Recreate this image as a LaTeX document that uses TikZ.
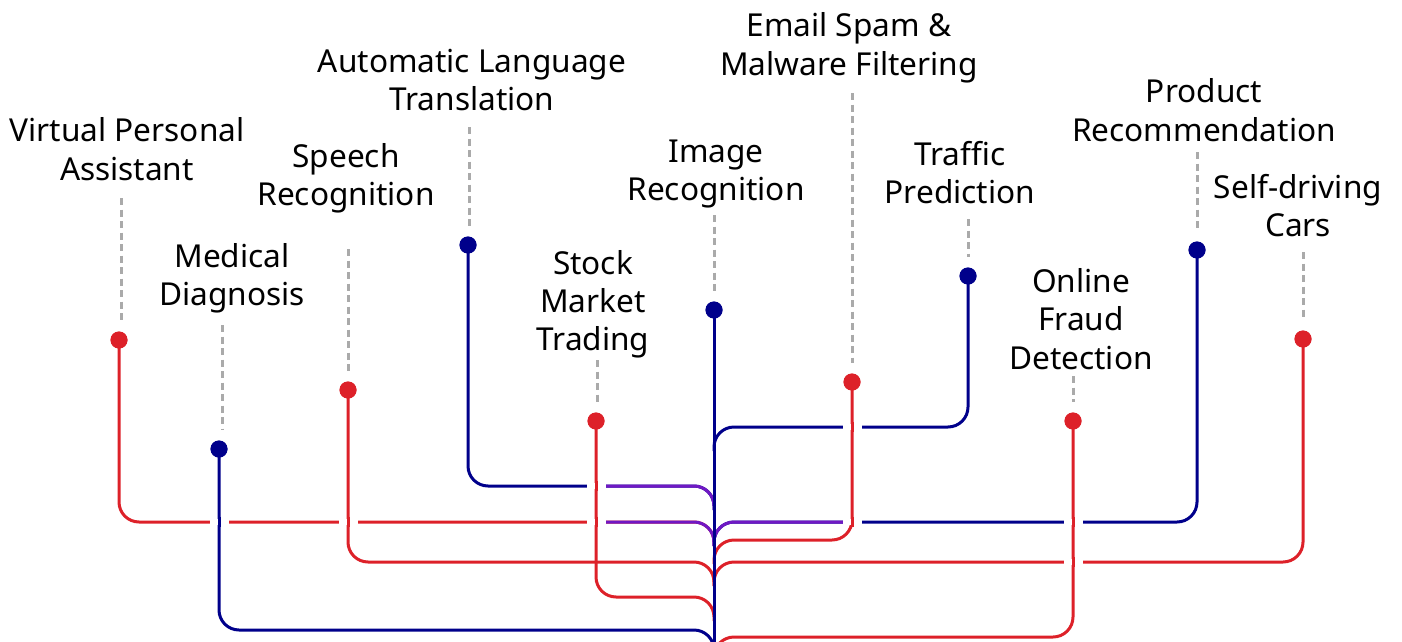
\documentclass[tikz,border=0pt]{standalone}
\usepackage{fontspec}
\setmainfont{Noto Sans}
\definecolor{cred}{RGB}{221,33,41}
\definecolor{cblue}{RGB}{0,0,139}
\definecolor{cpurple}{RGB}{112,24,196}
\definecolor{cgray}{RGB}{170,170,170}
\newcommand\xgap[3]{%
  \fill[white] (#1-9.5,#2-3.2) rectangle (#1+9.5,#2+3.2);
  \draw[#3, rounded corners=0pt] (#1,#2-5) -- (#1,#2+5);}
\begin{document}
\begin{tikzpicture}[x=1pt,y=-1pt,
  lbl/.style={align=center, font=\fontsize{31.6}{38.3}\selectfont, inner sep=0pt, anchor=base},
  conn/.style={line width=3pt, rounded corners=20pt},
  redl/.style={conn, draw=cred},
  bluel/.style={conn, draw=cblue},
  purl/.style={conn, draw=cpurple},
  rdot/.style={circle, fill=cred, inner sep=0pt, minimum size=17pt},
  bdot/.style={circle, fill=cblue, inner sep=0pt, minimum size=17pt},
  leader/.style={draw=cgray, line width=3pt, dash pattern=on 7pt off 4.5pt, shorten >=19pt}]
\useasboundingbox (0,0) rectangle (1402,642);
\begin{scope}
\clip (0,0) rectangle (1402,642);
% dots (positions)
\node[rdot] (dVPA) at (119,340) {};
\node[bdot] (dMed) at (219,449) {};
\node[rdot] (dSpe) at (348,390) {};
\node[bdot] (dALT) at (468,245) {};
\node[rdot] (dSto) at (596,421) {};
\node[bdot] (dImg) at (714,310) {};
\node[rdot] (dEma) at (852,382) {};
\node[bdot] (dTra) at (968,276) {};
\node[rdot] (dOnl) at (1073,421) {};
\node[bdot] (dPro) at (1197,250) {};
\node[rdot] (dSel) at (1303,339) {};
% junctions on the trunk
\coordinate (j427) at (714,427);
\coordinate (j486) at (714,486);
\coordinate (j522) at (714,522);
\coordinate (j540) at (714,540);
\coordinate (j562) at (714,562);
\coordinate (j597) at (714,597);
\coordinate (j630) at (714,630);
\coordinate (j637) at (714,637);
\coordinate (tEnd) at (714,660);
% connectors
\draw[redl]  (dVPA.center) |- (j522) -- ++(0,24);
\draw[bluel] (dMed.center) |- (j630) -- ++(0,24);
\draw[redl]  (dSpe.center) |- (j562) -- ++(0,24);
\draw[bluel] (dALT.center) |- (j486) -- ++(0,24);
\draw[redl]  (dSto.center) |- (j597) -- ++(0,24);
\draw[bluel] (dTra.center) |- (j427) -- ++(0,24);
\draw[redl]  (dEma.center) |- (j540) -- ++(0,24);
\draw[bluel] (dPro.center) |- (j522) -- ++(0,24);
\draw[redl]  (dSel.center) |- (j562) -- ++(0,24);
\draw[redl]  (dOnl.center) |- (j637) -- ++(0,24);
% purple end segments
\coordinate (pA) at (596,486);
\coordinate (pB) at (596,522);
\coordinate (pC) at (852,522);
\draw[purl] (pA) -- (j486) -- ++(0,24);
\draw[purl] (pB) -- (j522) -- ++(0,24);
\draw[purl] (pC) -- (j522) -- ++(0,24);
% trunk
\draw[bluel] (dImg.center) -- (tEnd);
% crossings
\xgap{219}{522}{bluel}
\xgap{348}{522}{redl}
\xgap{596}{486}{redl}
\xgap{596}{522}{redl}
\xgap{852}{427}{redl}
\xgap{852}{522}{redl}
\xgap{1073}{522}{redl}
\xgap{1073}{562}{redl}
\end{scope}
% dots on top
\foreach \d in {dVPA,dSpe,dSto,dEma,dOnl,dSel} \fill[cred] (\d) circle (8.5pt);
\foreach \d in {dMed,dALT,dImg,dTra,dPro} \fill[cblue] (\d) circle (8.5pt);
% labels (anchor = baseline of last line)
\node[lbl] (lVPA) at (127,180) {Virtual Personal\\Assistant};
\node[lbl] (lMed) at (232,305.3) {Medical\\Diagnosis};
\node[lbl] (lSpe) at (346,205.3) {Speech\\Recognition};
\node[lbl] (lALT) at (472,110.3) {Automatic Language\\Translation};
\node[lbl] (lSto) at (593,350.6) {Stock\\Market\\Trading};
\node[lbl] (lImg) at (716,200.3) {Image\\Recognition};
\node[lbl] (lEma) at (849,75) {Email Spam \&\\Malware Filtering};
\node[lbl] (lTra) at (960,203.3) {Traffic\\Prediction};
\node[lbl] (lOnl) at (1081,369) {Online\\Fraud\\Detection};
\node[lbl] (lPro) at (1204,141) {Product\\Recommendation};
\node[lbl] (lSel) at (1298,236.7) {Self-driving\\Cars};
% leader tops
\coordinate (tVPA) at (121,198);
\coordinate (tMed) at (222,325);
\coordinate (tSpe) at (348,249);
\coordinate (tALT) at (469,127);
\coordinate (tSto) at (597,360);
\coordinate (tImg) at (714,215);
\coordinate (tEma) at (852,93);
\coordinate (tTra) at (968,219);
\coordinate (tOnl) at (1073,376);
\coordinate (tPro) at (1197,152);
\coordinate (tSel) at (1303,252);
\foreach \n in {VPA,Med,Spe,ALT,Sto,Img,Ema,Tra,Onl,Pro,Sel}
  \draw[leader] (t\n) -- (t\n |- d\n.center);
\end{tikzpicture}
\end{document}
